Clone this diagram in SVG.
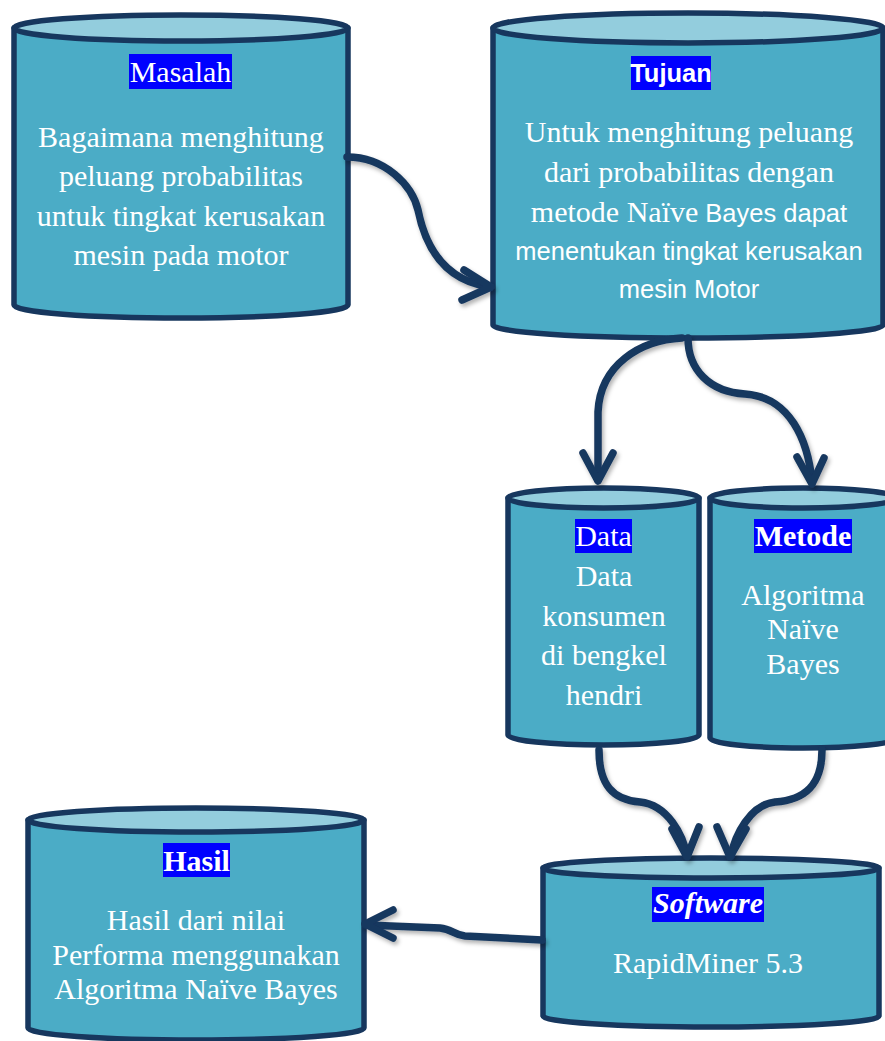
<svg xmlns="http://www.w3.org/2000/svg" width="885" height="1041" viewBox="0 0 885 1041">
<defs>
<filter id="sh" x="-10%" y="-10%" width="130%" height="130%">
<feDropShadow dx="2" dy="3" stdDeviation="2" flood-color="#000" flood-opacity="0.3"/>
</filter>
<style>
.body{fill:#4BACC6;stroke:#17375E;stroke-width:5.5;stroke-linejoin:round}
.top{fill:#93CDDD;stroke:#17375E;stroke-width:5.5}
.lbl{fill:#0000FF}
.t{font-family:"Liberation Serif","Times New Roman",serif;font-size:30px;fill:#FFFFFF;text-anchor:middle}
.s{font-family:"Liberation Sans",Arial,sans-serif;font-size:25.5px;fill:#FFFFFF}
.b{font-weight:bold}
.bi{font-weight:bold;font-style:italic}
.c{fill:none;stroke:#17375E;stroke-width:7.5;stroke-linecap:round;stroke-linejoin:round}
</style>
</defs>
<rect width="885" height="1041" fill="#FFFFFF"/>

<g id="masalah">
<path class="body" d="M14,28 L14,305 A167,13 0 0 0 348,305 L348,28 Z"/>
<ellipse class="top" cx="181" cy="28" rx="167" ry="13"/>
<rect class="lbl" x="129" y="54" width="103" height="35"/>
<text class="t" x="180.5" y="82">Masalah</text>
<text class="t" x="181" y="147">Bagaimana menghitung</text>
<text class="t" x="181" y="186">peluang probabilitas</text>
<text class="t" x="181" y="226">untuk tingkat kerusakan</text>
<text class="t" x="181" y="265">mesin pada motor</text>
</g>

<g id="tujuan">
<path class="body" d="M493,28 L493,325 A195,13 0 0 0 883,325 L883,28 Z"/>
<ellipse class="top" cx="688" cy="28" rx="195" ry="15"/>
<rect class="lbl" x="631" y="56" width="80" height="34"/>
<text class="s b" x="671" y="82" text-anchor="middle" font-size="24">Tujuan</text>
<text class="t" x="689" y="142">Untuk menghitung peluang</text>
<text class="t" x="689" y="182">dari probabilitas dengan</text>
<text class="t" x="689" y="222">metode Naïve<tspan class="s"> Bayes dapat</tspan></text>
<text class="s" x="689" y="260" text-anchor="middle">menentukan tingkat kerusakan</text>
<text class="s" x="689" y="298" text-anchor="middle">mesin Motor</text>
</g>

<g id="data">
<path class="body" d="M508,498 L508,735 A95.5,10 0 0 0 699,735 L699,498 Z"/>
<ellipse class="top" cx="603.5" cy="498" rx="95.5" ry="10"/>
<rect class="lbl" x="575" y="519" width="57" height="34"/>
<text class="t" x="603.5" y="546">Data</text>
<text class="t" x="604" y="586">Data</text>
<text class="t" x="604" y="626">konsumen</text>
<text class="t" x="604" y="665">di bengkel</text>
<text class="t" x="604" y="705">hendri</text>
</g>

<g id="metode">
<path class="body" d="M710,498 L710,738 A93,10 0 0 0 896,738 L896,498 Z"/>
<ellipse class="top" cx="803" cy="498" rx="93" ry="10"/>
<rect class="lbl" x="754" y="519" width="98" height="34"/>
<text class="t b" x="803" y="546">Metode</text>
<text class="t" x="803" y="605">Algoritma</text>
<text class="t" x="803" y="639">Naïve</text>
<text class="t" x="803" y="674">Bayes</text>
</g>

<g id="hasil">
<path class="body" d="M28,820 L28,1028 A168,12 0 0 0 364,1028 L364,820 Z"/>
<ellipse class="top" cx="196" cy="820" rx="168" ry="12"/>
<rect class="lbl" x="163" y="843" width="67" height="34"/>
<text class="t b" x="196.5" y="871">Hasil</text>
<text class="t" x="196" y="930">Hasil dari nilai</text>
<text class="t" x="196" y="965">Performa menggunakan</text>
<text class="t" x="196" y="999">Algoritma Naïve Bayes</text>
</g>

<g id="software">
<path class="body" d="M543,868 L543,1016 A168,11 0 0 0 879,1016 L879,868 Z"/>
<ellipse class="top" cx="711" cy="868" rx="168" ry="10"/>
<rect class="lbl" x="652" y="887" width="112" height="35"/>
<text class="t bi" x="708" y="913">Software</text>
<text class="t" x="708" y="973">RapidMiner 5.3</text>
</g>

<g id="connectors" filter="url(#sh)">
<path class="c" d="M347,157 C385,157 412,185 418,210 C424,240 440,280 490,287"/>
<path class="c" d="M464,270 L491,287 L462,300"/>
<path class="c" d="M682,338 C640,340 600,365 598,412 L598,480"/>
<path class="c" d="M583,453 L598,481 L613,453"/>
<path class="c" d="M688,338 C688,370 710,392 745,394 C790,397 808,440 812,482"/>
<path class="c" d="M797,457 L812,484 L824,458"/>
<path class="c" d="M599,750 C599,785 613,800 640,802 C668,805 683,835 687,856"/>
<path class="c" d="M672,829 L687,857 L699,827"/>
<path class="c" d="M822,750 C822,785 805,800 775,802 C750,805 735,835 731,856"/>
<path class="c" d="M717,827 L730,857 L746,829"/>
<path class="c" d="M542,940 L465,936 C454,935 452,929 440,928 L366,925"/>
<path class="c" d="M393,910 L365,924 L393,938"/>
</g>
</svg>
